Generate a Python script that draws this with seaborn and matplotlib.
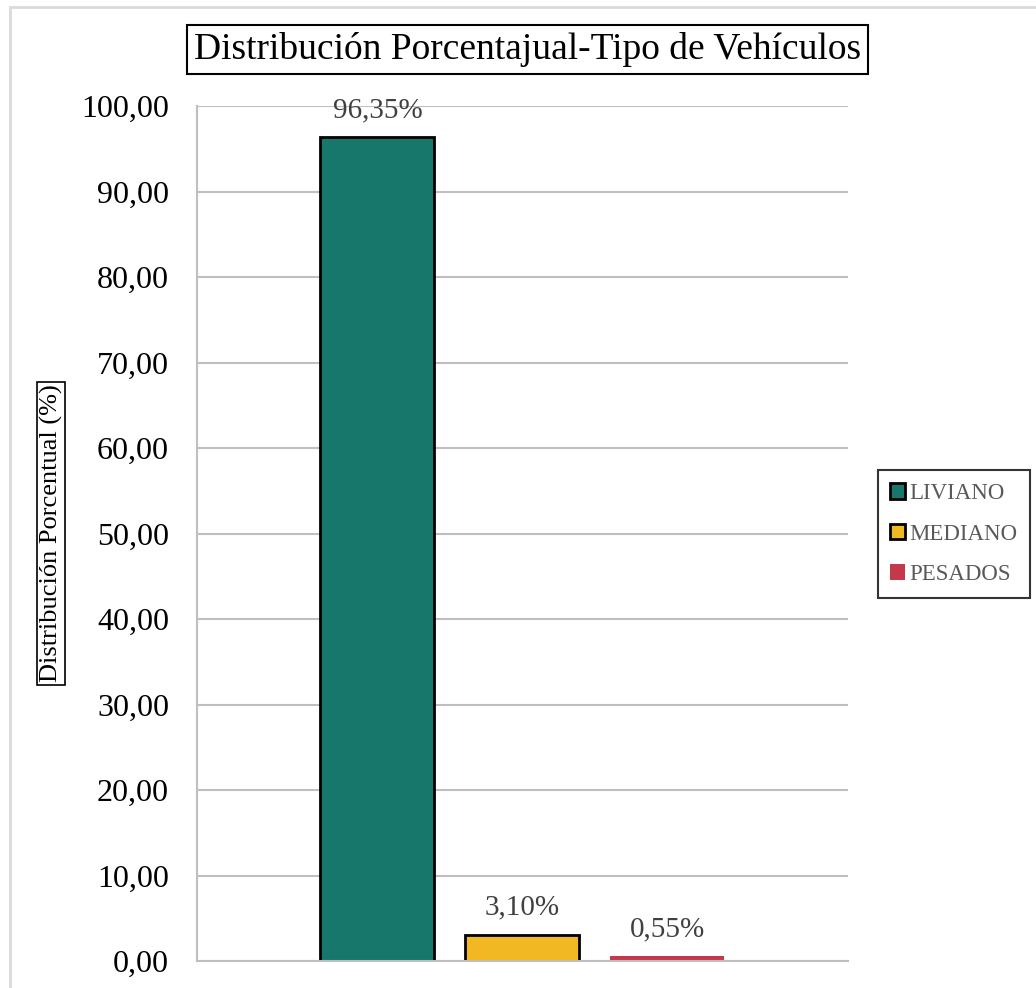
import numpy as np
import pandas as pd
import seaborn as sns
import matplotlib.pyplot as plt
from matplotlib.patches import Rectangle

# datos
tipos = ["LIVIANO", "MEDIANO", "PESADOS"]
porcentajes = [96.35, 3.10, 0.55]
colores = ["#17776A", "#F2B823", "#C3384A"]
bordes = ["black", "black", "none"]

sns.set_style("white")
plt.rcParams['font.family'] = ['Liberation Serif', 'DejaVu Serif']
plt.rcParams['text.color'] = 'black'
plt.rcParams['axes.labelcolor'] = 'black'
plt.rcParams['ytick.color'] = 'black'

data = pd.DataFrame({"grupo": [""] * 3, "tipo": tipos, "valor": porcentajes})

fig = plt.figure(figsize=(10.36, 9.88), dpi=100)
ax = fig.add_axes([0.190, 0.0273, 0.6285, 0.8654])

sns.barplot(data=data, x="grupo", y="valor", hue="tipo", hue_order=tipos,
            palette=colores, saturation=1, width=0.668, gap=0.214, ax=ax, legend=False)

for bar, borde in zip(ax.patches, bordes):
    bar.set_edgecolor(borde)
    bar.set_linewidth(2 if borde != "none" else 0)

# etiquetas de datos
for bar, v in zip(ax.patches, porcentajes):
    txt = f"{v:.2f}".replace(".", ",") + "%"
    ax.annotate(txt, (bar.get_x() + bar.get_width() / 2, bar.get_height()),
                xytext=(0, 10), textcoords="offset points", ha="center", va="bottom",
                fontsize=21, color="#404040")

ax.set_xlim(-0.5, 0.5)
ax.set_ylim(0, 100)
ax.set_yticks(np.arange(0, 101, 10))
ax.set_yticklabels([f"{t:.2f}".replace(".", ",") for t in np.arange(0, 101, 10)], fontsize=23)
ax.set_xticks([])
ax.set_xlabel("")
ax.tick_params(axis="y", length=0, pad=20, labelcolor="black")
ax.grid(axis="y", color="#BFBFBF", linewidth=1.5)
ax.set_axisbelow(True)
for s in ["top", "right"]:
    ax.spines[s].set_visible(False)
for s in ["left", "bottom"]:
    ax.spines[s].set_color("#BFBFBF")
    ax.spines[s].set_linewidth(1.5)

ax.set_ylabel("Distribución Porcentual (%)", fontsize=19, color="black",
              bbox=dict(boxstyle="square,pad=0.1", fc="white", ec="black", lw=1.2))
ax.yaxis.set_label_coords(-0.206, 0.5)

fig.text(0.509, 0.950, "Distribución Porcentajual-Tipo de Vehículos", ha="center", va="center",
         fontsize=27, color="black",
         bbox=dict(boxstyle="square,pad=0.18", fc="white", ec="black", lw=1.5))

# leyenda
handles = [Rectangle((0, 0), 1, 1, fc=c, ec=("black" if b != "none" else c), lw=2 if b != "none" else 0)
           for c, b in zip(colores, bordes)]
leg = fig.legend(handles, tipos, loc="center", bbox_to_anchor=(0.9209, 0.4595), fontsize=16.5,
                 frameon=True, fancybox=False, edgecolor="black", handlelength=0.65, handleheight=0.65,
                 handletextpad=0.2, labelspacing=0.85, borderpad=0.55, borderaxespad=0)
leg.get_frame().set_linewidth(1.5)
for t in leg.get_texts():
    t.set_color("#595959")

# borde del grafico
fig.patches.append(Rectangle((10 / 1036, -0.1), 1.2, 1 - 7 / 988 + 0.1, transform=fig.transFigure,
                             fill=False, ec="#D9D9D9", lw=2))

fig.savefig("out.png", dpi=100)
